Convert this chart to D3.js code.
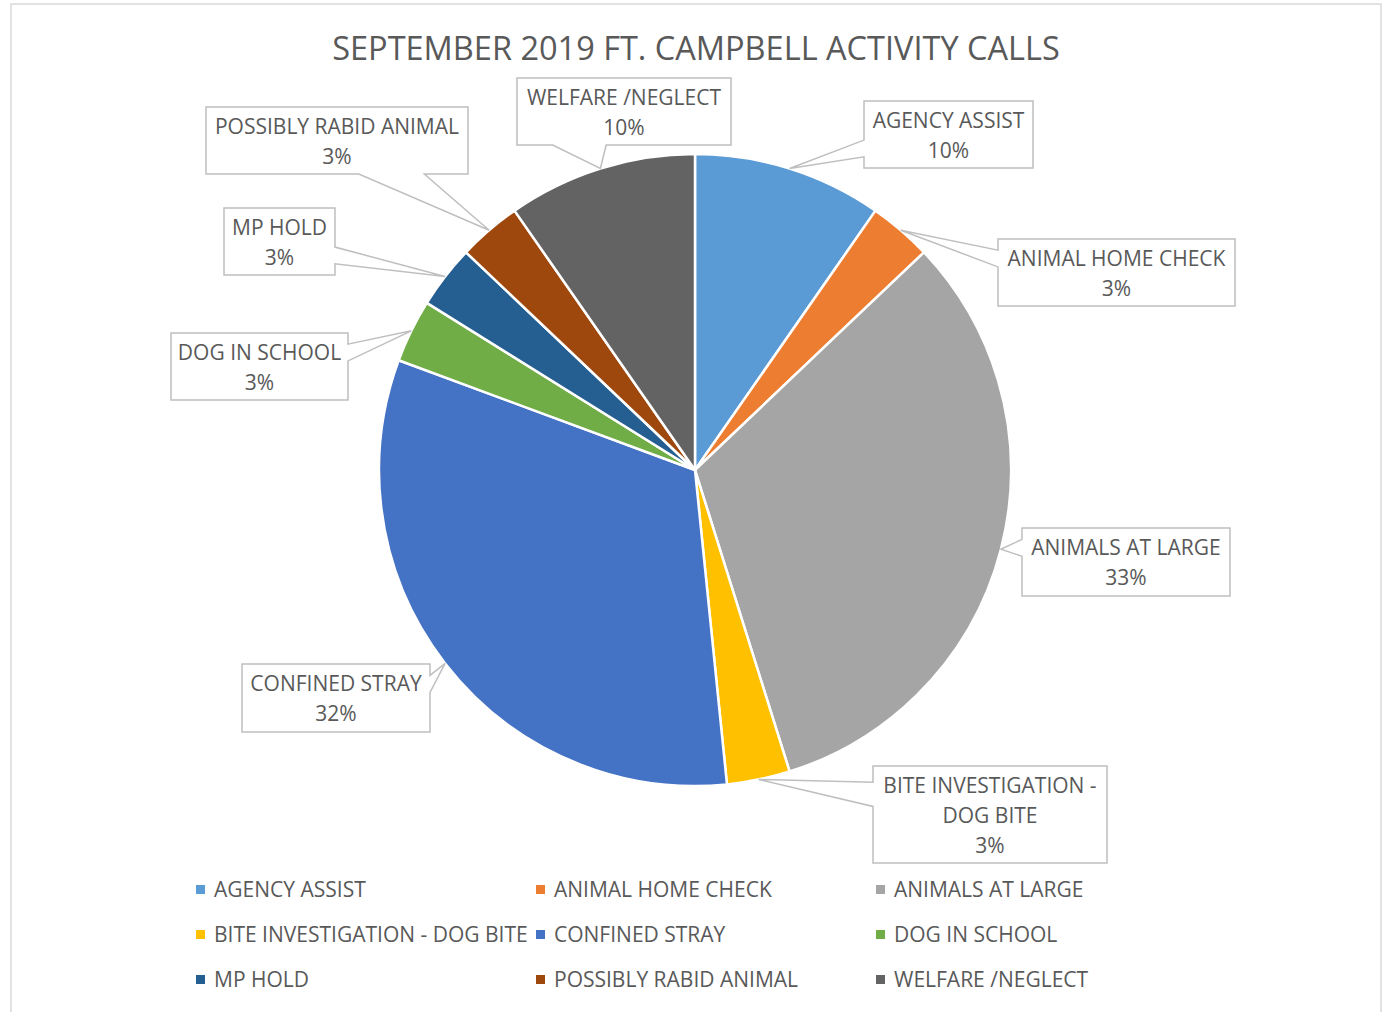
<!DOCTYPE html>
<html>
<head>
<meta charset="utf-8">
<script src="https://cdn.jsdelivr.net/npm/d3@7"></script>
<style>
  body { margin: 0; background: #fff; }
  text { font-family: "Open Sans", sans-serif; fill: #595959; }
</style>
</head>
<body>
<div id="chart"></div>
<script>
// data (counts, total 31)
var categories = ["AGENCY ASSIST", "ANIMAL HOME CHECK", "ANIMALS AT LARGE", "BITE INVESTIGATION - DOG BITE",
  "CONFINED STRAY", "DOG IN SCHOOL", "MP HOLD", "POSSIBLY RABID ANIMAL", "WELFARE /NEGLECT"];
var counts = [3, 1, 10, 1, 10, 1, 1, 1, 3];
var pctLabels = ["10%", "3%", "33%", "3%", "32%", "3%", "3%", "3%", "10%"];
var labelLines = [["AGENCY ASSIST"], ["ANIMAL HOME CHECK"], ["ANIMALS AT LARGE"], ["BITE INVESTIGATION -", "DOG BITE"],
  ["CONFINED STRAY"], ["DOG IN SCHOOL"], ["MP HOLD"], ["POSSIBLY RABID ANIMAL"], ["WELFARE /NEGLECT"]];
var colors = ["#5B9BD5", "#ED7D31", "#A5A5A5", "#FFC000", "#4472C4", "#70AD47", "#255E91", "#9E480E", "#636363"];

// callout boxes [x, y, w, h] (layout)
var boxes = [[864, 101, 169, 67], [998, 239, 237, 67], [1022, 528, 208, 68], [873, 766, 234, 97],
  [242, 664, 188, 68], [171, 333, 177, 67], [224, 208, 111, 67], [206, 107, 262, 67], [517, 78, 214, 67]];

var width = 1385, height = 1012;
var cx = 695, cy = 470, radius = 316;
var fontSize = 21;

var svg = d3.select("#chart").append("svg")
    .attr("width", width)
    .attr("height", height);

// chart area border
svg.append("rect")
    .attr("x", 11).attr("y", 4)
    .attr("width", 1370).attr("height", 1020)
    .attr("fill", "#fff")
    .attr("stroke", "#d9d9d9")
    .attr("stroke-width", 1.5);

svg.append("text")
    .attr("x", cx + 1)
    .attr("y", 49)
    .attr("dy", "0.35em")
    .style("text-anchor", "middle")
    .style("font-size", "32.5px")
    .text("SEPTEMBER 2019 FT. CAMPBELL ACTIVITY CALLS");

var pie = d3.pie().sort(null).value(function(d) { return d; });
var arcs = pie(counts);
var arc = d3.arc().innerRadius(0).outerRadius(radius);
var tipArc = d3.arc().innerRadius(radius).outerRadius(radius);

var g = svg.append("g").attr("transform", `translate(${cx},${cy})`);

g.selectAll("path.slice")
  .data(arcs)
  .enter()
  .append("path")
    .attr("class", "slice")
    .attr("d", arc)
    .attr("fill", function(d, i) { return colors[i]; })
    .attr("stroke", "#fff")
    .attr("stroke-width", 2.5)
    .attr("stroke-linejoin", "round");

// excel style wedge rect callout
function calloutPath(b, tip) {
  var x = b[0], y = b[1], w = b[2], h = b[3];
  var dx = (tip[0] - (x + w / 2)) / w, dy = (tip[1] - (y + h / 2)) / h;
  var out = [];
  if (Math.abs(dy) > Math.abs(dx)) {
    var f = dx < 0 ? [2, 5] : [7, 10];
    var a = x + w * f[0] / 12, c = x + w * f[1] / 12;
    if (dy < 0) out = [[x, y], [a, y], tip, [c, y], [x + w, y], [x + w, y + h], [x, y + h]];
    else out = [[x, y], [x + w, y], [x + w, y + h], [c, y + h], tip, [a, y + h], [x, y + h]];
  } else {
    var f2 = dy < 0 ? [2, 5] : [7, 10];
    var a2 = y + h * f2[0] / 12, c2 = y + h * f2[1] / 12;
    if (dx < 0) out = [[x, y], [x + w, y], [x + w, y + h], [x, y + h], [x, c2], tip, [x, a2]];
    else out = [[x, y], [x + w, y], [x + w, a2], tip, [x + w, c2], [x + w, y + h], [x, y + h]];
  }
  return "M" + out.map(function(p) { return p[0] + "," + p[1]; }).join("L") + "Z";
}

var labels = svg.append("g");
arcs.forEach(function(d, i) {
  var t = tipArc.centroid(d);
  var tip = [cx + t[0], cy + t[1]];
  var b = boxes[i];
  labels.append("path")
      .attr("d", calloutPath(b, tip))
      .attr("fill", "#fff")
      .attr("stroke", "#bfbfbf")
      .attr("stroke-width", 1.5);
  var lines = labelLines[i].concat([pctLabels[i]]);
  labels.append("g").selectAll("text")
    .data(lines)
    .enter()
    .append("text")
      .attr("x", b[0] + b[2] / 2)
      .attr("y", function(s, j) { return b[1] + 19.5 + j * 30; })
      .attr("dy", "0.35em")
      .style("text-anchor", "middle")
      .style("font-size", fontSize + "px")
      .text(function(s) { return s; });
});

// legend, 3 columns
var legX = d3.scaleOrdinal().domain([0, 1, 2]).range([196, 536, 876]);
var legY = d3.scaleOrdinal().domain([0, 1, 2]).range([889.5, 934.5, 979.5]);

var legend = svg.append("g").selectAll("g")
  .data(categories)
  .enter()
  .append("g")
    .attr("transform", function(d, i) { return `translate(${legX(i % 3)},${legY(Math.floor(i / 3))})`; });

legend.append("rect")
    .attr("x", 0).attr("y", -4.5)
    .attr("width", 9).attr("height", 9)
    .attr("fill", function(d, i) { return colors[i]; });

legend.append("text")
    .attr("x", 18)
    .attr("dy", "0.35em")
    .style("font-size", fontSize + "px")
    .text(function(d) { return d; });
</script>
</body>
</html>
